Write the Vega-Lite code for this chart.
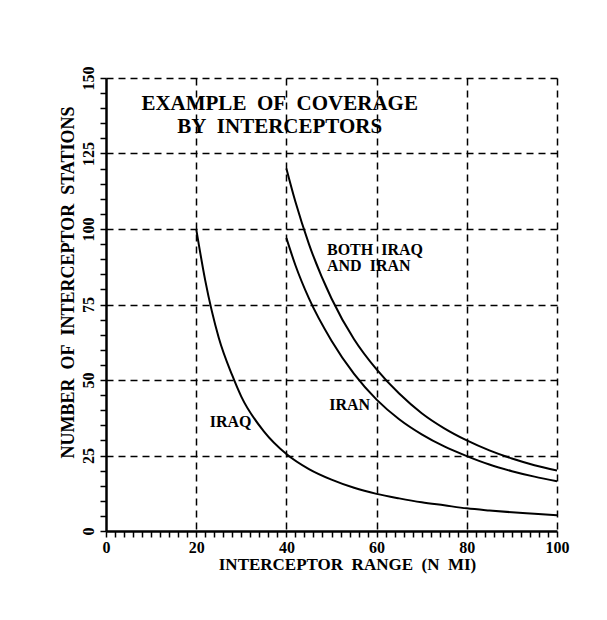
{
  "$schema": "https://vega.github.io/schema/vega-lite/v6.json",
  "width": 451,
  "height": 453,
  "autosize": "none",
  "padding": {"left": 106, "top": 78, "right": 50, "bottom": 89},
  "background": "white",
  "config": {
    "view": {"stroke": null},
    "font": "Liberation Serif",
    "axis": {
      "domainColor": "black",
      "domainWidth": 2.5,
      "tickColor": "black",
      "tickWidth": 1.5,
      "tickSize": 6,
      "labelFont": "Liberation Serif",
      "labelFontWeight": "bold",
      "labelFontSize": 16,
      "labelColor": "black",
      "titleFont": "Liberation Serif",
      "titleFontWeight": "bold",
      "titleFontSize": 17,
      "titleColor": "black",
      "gridColor": "black",
      "gridDash": [7, 5],
      "gridWidth": 1.5
    }
  },
  "datasets": {
    "curves": [
      {"range": 20, "stations": 100, "series": "IRAQ"},
      {"range": 22, "stations": 83, "series": "IRAQ"},
      {"range": 25, "stations": 64, "series": "IRAQ"},
      {"range": 28, "stations": 51.5, "series": "IRAQ"},
      {"range": 30, "stations": 44.5, "series": "IRAQ"},
      {"range": 35, "stations": 33, "series": "IRAQ"},
      {"range": 40, "stations": 25.5, "series": "IRAQ"},
      {"range": 45, "stations": 20.5, "series": "IRAQ"},
      {"range": 50, "stations": 17, "series": "IRAQ"},
      {"range": 55, "stations": 14.3, "series": "IRAQ"},
      {"range": 60, "stations": 12.3, "series": "IRAQ"},
      {"range": 65, "stations": 10.8, "series": "IRAQ"},
      {"range": 70, "stations": 9.5, "series": "IRAQ"},
      {"range": 75, "stations": 8.5, "series": "IRAQ"},
      {"range": 80, "stations": 7.5, "series": "IRAQ"},
      {"range": 85, "stations": 6.8, "series": "IRAQ"},
      {"range": 90, "stations": 6.2, "series": "IRAQ"},
      {"range": 95, "stations": 5.7, "series": "IRAQ"},
      {"range": 100, "stations": 5.2, "series": "IRAQ"},
      {"range": 40, "stations": 97, "series": "IRAN"},
      {"range": 42, "stations": 88, "series": "IRAN"},
      {"range": 45, "stations": 77, "series": "IRAN"},
      {"range": 50, "stations": 63, "series": "IRAN"},
      {"range": 55, "stations": 52, "series": "IRAN"},
      {"range": 60, "stations": 43.5, "series": "IRAN"},
      {"range": 65, "stations": 37, "series": "IRAN"},
      {"range": 70, "stations": 32, "series": "IRAN"},
      {"range": 75, "stations": 28, "series": "IRAN"},
      {"range": 80, "stations": 24.8, "series": "IRAN"},
      {"range": 85, "stations": 22, "series": "IRAN"},
      {"range": 90, "stations": 19.8, "series": "IRAN"},
      {"range": 95, "stations": 18, "series": "IRAN"},
      {"range": 100, "stations": 16.5, "series": "IRAN"},
      {"range": 40, "stations": 120, "series": "BOTH"},
      {"range": 42, "stations": 109, "series": "BOTH"},
      {"range": 45, "stations": 95, "series": "BOTH"},
      {"range": 50, "stations": 77, "series": "BOTH"},
      {"range": 55, "stations": 63.5, "series": "BOTH"},
      {"range": 60, "stations": 53.5, "series": "BOTH"},
      {"range": 65, "stations": 45.5, "series": "BOTH"},
      {"range": 70, "stations": 39, "series": "BOTH"},
      {"range": 75, "stations": 34, "series": "BOTH"},
      {"range": 80, "stations": 30, "series": "BOTH"},
      {"range": 85, "stations": 26.7, "series": "BOTH"},
      {"range": 90, "stations": 24, "series": "BOTH"},
      {"range": 95, "stations": 21.8, "series": "BOTH"},
      {"range": 100, "stations": 20, "series": "BOTH"}
    ],
    "heading": [
      {"range": 38.5, "stations": 139.4, "text": "EXAMPLE\u00a0 OF\u00a0 COVERAGE"},
      {"range": 38.5, "stations": 131.8, "text": "BY\u00a0 INTERCEPTORS"}
    ],
    "labels": [
      {"range": 49, "stations": 91.4, "text": "BOTH\u00a0 IRAQ"},
      {"range": 49, "stations": 86.1, "text": "AND\u00a0 IRAN"},
      {"range": 49.5, "stations": 40, "text": "IRAN"},
      {"range": 23, "stations": 34.4, "text": "IRAQ"}
    ]
  },
  "encoding": {
    "x": {
      "field": "range",
      "type": "quantitative",
      "scale": {"domain": [0, 100], "nice": false, "zero": false},
      "axis": {
        "title": "INTERCEPTOR\u00a0 RANGE\u00a0 (N\u00a0 MI)",
        "titleX": 241,
        "values": [0,2,4,6,8,10,12,14,16,18,20,22,24,26,28,30,32,34,36,38,40,42,44,46,48,50,52,54,56,58,60,62,64,66,68,70,72,74,76,78,80,82,84,86,88,90,92,94,96,98,100],
        "labelExpr": "datum.value % 20 === 0 ? datum.label : ''",
        "labelPadding": 2,
        "titlePadding": 1,
        "grid": true,
        "gridOpacity": {"condition": {"test": "datum.value % 20 === 0 && datum.value > 0", "value": 1}, "value": 0},
        "labelFlush": false
      }
    },
    "y": {
      "field": "stations",
      "type": "quantitative",
      "scale": {"domain": [0, 150], "nice": false, "zero": false},
      "axis": {
        "title": "NUMBER\u00a0 OF\u00a0 INTERCEPTOR\u00a0 STATIONS",
        "titleY": 204,
        "titleFontSize": 18,
        "values": [0,5,10,15,20,25,30,35,40,45,50,55,60,65,70,75,80,85,90,95,100,105,110,115,120,125,130,135,140,145,150],
        "labelExpr": "datum.value % 25 === 0 ? datum.label : ''",
        "labelAngle": -90,
        "labelPadding": 4,
        "titlePadding": 3,
        "grid": true,
        "gridOpacity": {"condition": {"test": "datum.value % 25 === 0 && datum.value > 0", "value": 1}, "value": 0},
        "labelFlush": false
      }
    }
  },
  "layer": [
    {
      "data": {"name": "curves"},
      "mark": {"type": "line", "color": "black", "strokeWidth": 2, "interpolate": "monotone"},
      "encoding": {"detail": {"field": "series", "type": "nominal"}}
    },
    {
      "data": {"name": "heading"},
      "mark": {"type": "text", "font": "Liberation Serif", "fontWeight": "bold", "fontSize": 21, "align": "center", "baseline": "alphabetic", "color": "black"},
      "encoding": {"text": {"field": "text", "type": "nominal"}}
    },
    {
      "data": {"name": "labels"},
      "mark": {"type": "text", "font": "Liberation Serif", "fontWeight": "bold", "fontSize": 16, "align": "left", "baseline": "alphabetic", "color": "black"},
      "encoding": {"text": {"field": "text", "type": "nominal"}}
    }
  ]
}
